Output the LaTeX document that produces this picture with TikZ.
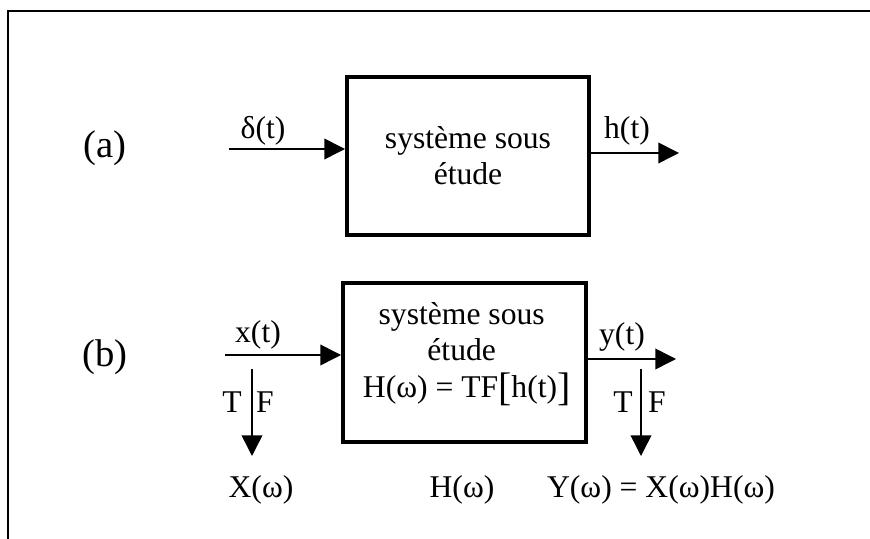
\documentclass[tikz,border=0pt]{standalone}
\usepackage{fontspec}
\setmainfont{Liberation Serif}
\usepackage{tikz}
\usetikzlibrary{arrows.meta}

\tikzset{
  sysbox/.style={draw, line width=3.4pt, minimum width=7.26cm, minimum height=4.74cm,
    align=center, inner sep=0pt},
  sig/.style={-{Triangle[length=0.62cm, width=0.62cm]}, line width=1.3pt},
  lbl/.style={inner sep=0pt},
  partlbl/.style={inner sep=0pt, font=\fontsize{33}{36}\selectfont}
}
\newcommand{\bigbr}[1]{\raisebox{-0.09em}{\fontsize{34}{34}\selectfont #1}}

\begin{document}
\begin{tikzpicture}[every node/.style={font=\fontsize{27}{31}\selectfont}]
  \useasboundingbox (0,0) rectangle (26.1,16.17);
  % Frame (top and left)
  \draw[line width=1.8pt] (0.24,0) -- (0.24,15.84) -- (26.2,15.84);

  % (a) impulse response
  \node[partlbl] (laba) at (3.15,11.73) {(a)};
  \node[sysbox] (boxa) at (14.04,11.49) {système sous\\étude};
  \coordinate (ina) at (6.87,11.70);
  \coordinate (outa) at (20.37,11.58);
  \draw[sig] (ina) -- (boxa.west |- ina);
  \draw[sig] (boxa.east |- outa) -- (outa);
  \node[lbl] (delta) at (7.89,12.24) {δ(t)};
  \node[lbl] (ht) at (18.81,12.24) {h(t)};

  % (b) frequency domain
  \node[partlbl] (labb) at (3.15,5.46) {(b)};
  \node[sysbox, minimum width=7.29cm, minimum height=4.77cm] (boxb) at (13.935,5.295) {};
  \node[lbl, align=center] (txtb) at (13.85,5.55)
    {système sous\\étude\\\hspace*{0.3cm}H(ω) = TF\bigbr{[}h(t)\bigbr{]}};
  \coordinate (inb) at (6.75,5.52);
  \coordinate (outb) at (20.28,5.40);
  \draw[sig] (inb) -- (boxb.west |- inb);
  \draw[sig] (boxb.east |- outb) -- (outb);
  \node[lbl] (xt) at (7.74,6.12) {x(t)};
  \node[lbl] (yt) at (18.66,6.06) {y(t)};

  % Fourier transforms
  \coordinate (tfxa) at (7.56,5.10);
  \coordinate (tfxb) at (7.56,2.49);
  \coordinate (tfya) at (19.23,5.10);
  \coordinate (tfyb) at (19.23,2.49);
  \draw[sig] (tfxa) -- (tfxb);
  \draw[sig] (tfya) -- (tfyb);
  \node[lbl] (tx) at (6.96,4.11) {T};
  \node[lbl] (fx) at (7.95,4.11) {F};
  \node[lbl] (ty) at (18.69,4.11) {T};
  \node[lbl] (fy) at (19.71,4.11) {F};

  \node[lbl] (Xw) at (7.83,1.47) {X(ω)};
  \node[lbl] (Hw) at (13.86,1.47) {H(ω)};
  \node[lbl] (Yw) at (19.83,1.47) {Y(ω) = X(ω)H(ω)};
\end{tikzpicture}
\end{document}
